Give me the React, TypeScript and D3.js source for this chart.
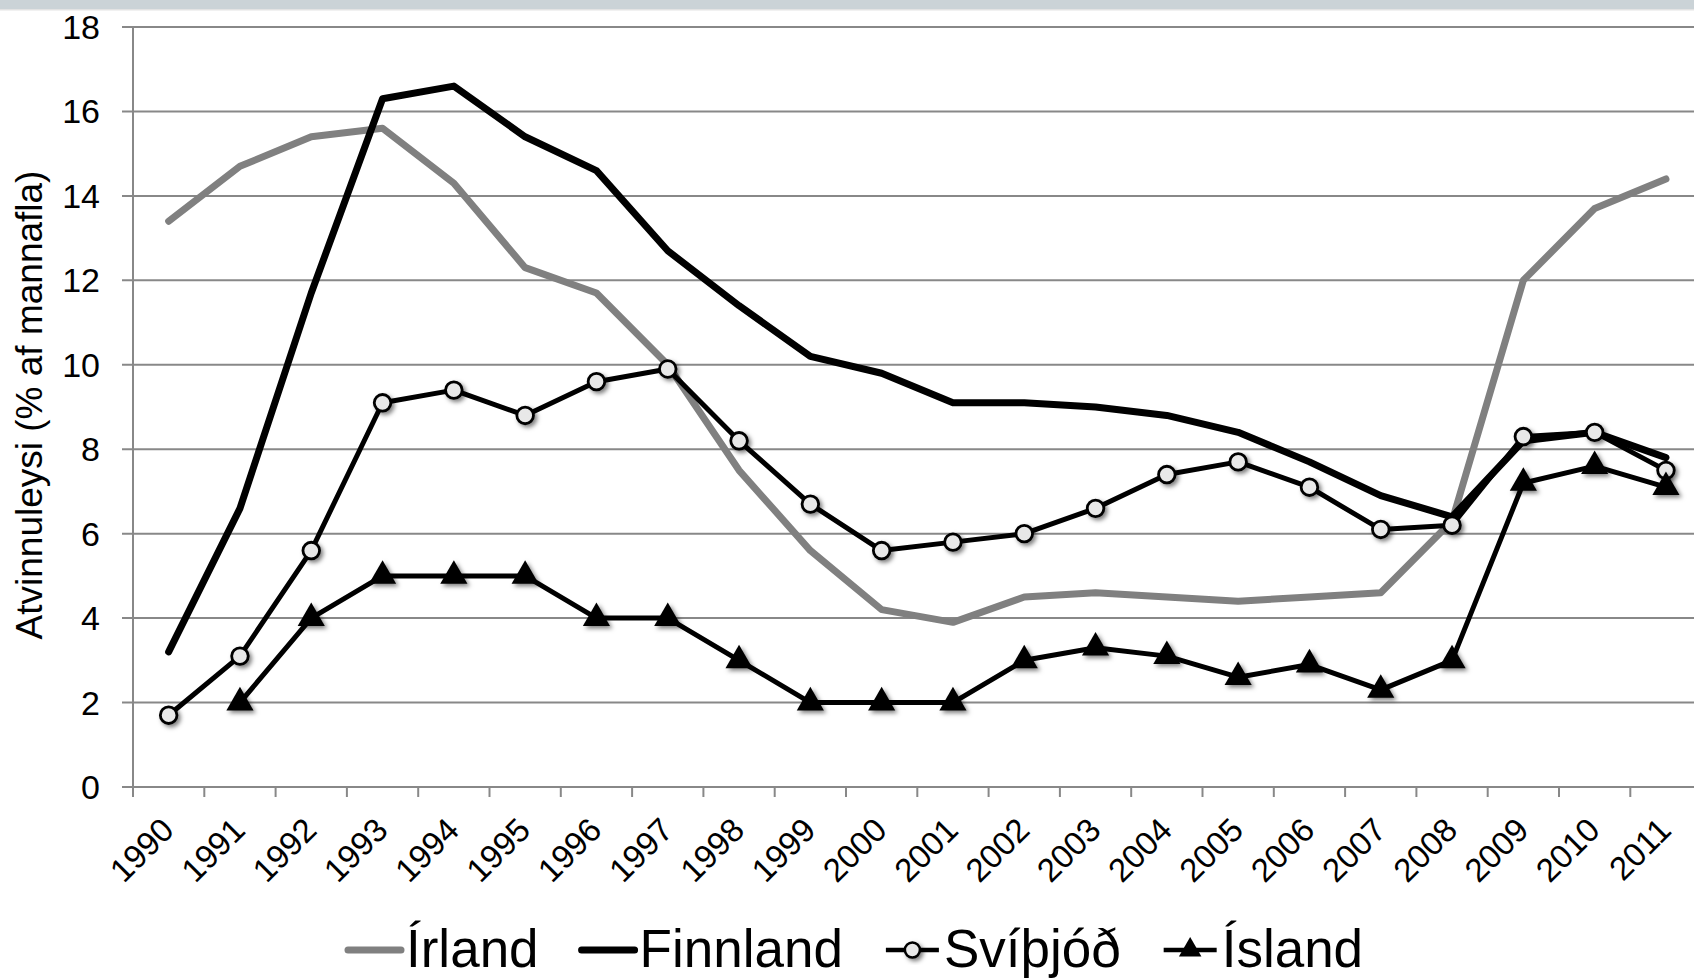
import React, { useRef, useEffect } from "react";
import * as d3 from "d3";

// atvinnuleysi 1990-2011, lesið af myndinni
const years = [
  "1990", "1991", "1992", "1993", "1994", "1995", "1996", "1997", "1998", "1999", "2000",
  "2001", "2002", "2003", "2004", "2005", "2006", "2007", "2008", "2009", "2010", "2011",
];
const irland = [13.4, 14.7, 15.4, 15.6, 14.3, 12.3, 11.7, 10.0, 7.5, 5.6, 4.2, 3.9, 4.5, 4.6, 4.5, 4.4, 4.5, 4.6, 6.3, 12.0, 13.7, 14.4];
const finnland = [3.2, 6.6, 11.7, 16.3, 16.6, 15.4, 14.6, 12.7, 11.4, 10.2, 9.8, 9.1, 9.1, 9.0, 8.8, 8.4, 7.7, 6.9, 6.4, 8.2, 8.4, 7.8];
const svithjod = [1.7, 3.1, 5.6, 9.1, 9.4, 8.8, 9.6, 9.9, 8.2, 6.7, 5.6, 5.8, 6.0, 6.6, 7.4, 7.7, 7.1, 6.1, 6.2, 8.3, 8.4, 7.5];
const island = [null, 2.0, 4.0, 5.0, 5.0, 5.0, 4.0, 4.0, 3.0, 2.0, 2.0, 2.0, 3.0, 3.3, 3.1, 2.6, 2.9, 2.3, 3.0, 7.2, 7.6, 7.1];
const seriesNames = ["Írland", "Finnland", "Svíþjóð", "Ísland"];
const yTicks = [0, 2, 4, 6, 8, 10, 12, 14, 16, 18];
const yTitle = "Atvinnuleysi (% af mannafla)";

const FONT = "'Liberation Sans', Arial, sans-serif";

const App = () => {
  const ref = useRef<HTMLDivElement>(null);

  useEffect(() => {
    const width = 1694;
    const height = 979;
    const step = 71.3;

    const x = d3.scaleBand<string>()
      .domain(years)
      .range([133, 133 + step * years.length]);
    const cx = (yr: string) => (x(yr) as number) + x.bandwidth() / 2;
    const y = d3.scaleLinear().domain([0, 18]).range([787, 27]);

    const svg = d3.create("svg")
      .attr("width", width)
      .attr("height", height)
      .attr("style", `position:absolute;left:0;top:0;display:block;background:#fff;font-family:${FONT}`);

    const defs = svg.append("defs");
    const f = defs.append("filter").attr("id", "shadow")
      .attr("x", "-50%").attr("y", "-50%").attr("width", "200%").attr("height", "200%");
    f.append("feDropShadow")
      .attr("dx", 2.5).attr("dy", 2.5).attr("stdDeviation", 2.2)
      .attr("flood-color", "#000").attr("flood-opacity", 0.5);

    // grábandið efst
    svg.append("rect").attr("x", 0).attr("y", 0).attr("width", width).attr("height", 9).attr("fill", "#cbd3d7");
    svg.append("rect").attr("x", 0).attr("y", 9).attr("width", width).attr("height", 1.5).attr("fill", "#e3e3e3");

    // láréttar línur og y-ás
    const grid = svg.append("g");
    grid.selectAll("line")
      .data(yTicks)
      .join("line")
      .attr("x1", 122).attr("x2", width)
      .attr("y1", d => y(d)).attr("y2", d => y(d))
      .attr("stroke", "#888").attr("stroke-width", 2);
    grid.append("line")
      .attr("x1", 133).attr("x2", 133).attr("y1", y(18)).attr("y2", y(0) + 10)
      .attr("stroke", "#888").attr("stroke-width", 2);

    svg.append("g").selectAll("text")
      .data(yTicks)
      .join("text")
      .attr("x", 100).attr("y", d => y(d))
      .attr("text-anchor", "end").attr("dominant-baseline", "central")
      .attr("font-size", 34).attr("fill", "#000")
      .text(d => d);

    svg.append("text")
      .attr("transform", `translate(42,${(y(0) + y(18)) / 2 - 2}) rotate(-90)`)
      .attr("text-anchor", "middle")
      .attr("font-size", 37).attr("fill", "#000")
      .text(yTitle);

    // x-ás merki
    svg.append("g").selectAll("line")
      .data(d3.range(years.length + 1))
      .join("line")
      .attr("x1", i => 133 + i * x.step()).attr("x2", i => 133 + i * x.step())
      .attr("y1", y(0)).attr("y2", y(0) + 10)
      .attr("stroke", "#888").attr("stroke-width", 2);

    svg.append("g").selectAll("text")
      .data(years)
      .join("text")
      .attr("transform", d => `translate(${cx(d) - 1},${y(0) + 37}) rotate(-45)`)
      .attr("text-anchor", "end").attr("dominant-baseline", "central")
      .attr("font-size", 33).attr("fill", "#000")
      .text(d => d);

    // línurnar
    const line = d3.line<number | null>()
      .defined(d => d != null)
      .x((_, i) => cx(years[i]))
      .y(d => y(d as number));

    const styles = [
      { data: irland, color: "#808080", w: 7 },
      { data: finnland, color: "#000", w: 7 },
      { data: svithjod, color: "#000", w: 5 },
      { data: island, color: "#000", w: 5 },
    ];
    const tri = d3.symbol().type(d3.symbolTriangle).size(320);

    const plot = svg.append("g");
    styles.forEach((s, k) => {
      plot.append("path")
        .attr("d", line(s.data as (number | null)[]))
        .attr("fill", "none")
        .attr("stroke", s.color)
        .attr("stroke-width", s.w)
        .attr("stroke-linecap", "round")
        .attr("stroke-linejoin", "round");

      if (k === 2) {
        plot.append("g").attr("filter", "url(#shadow)")
          .selectAll("circle")
          .data(svithjod.map((v, i) => ({ v, yr: years[i] })))
          .join("circle")
          .attr("cx", d => cx(d.yr)).attr("cy", d => y(d.v))
          .attr("r", 8.3)
          .attr("fill", "#e8e8e8").attr("stroke", "#000").attr("stroke-width", 2.8);
      }
      if (k === 3) {
        plot.append("g").attr("filter", "url(#shadow)")
          .selectAll("path")
          .data(island.map((v, i) => ({ v, yr: years[i] })).filter(d => d.v != null))
          .join("path")
          .attr("d", tri)
          .attr("transform", d => `translate(${cx(d.yr)},${y(d.v as number)})`)
          .attr("fill", "#000");
      }
    });

    const container = ref.current!;
    container.innerHTML = "";
    container.appendChild(svg.node()!);

    // skýringar, mældar eftir að svg er komið á síðuna
    const legend = svg.append("g");
    const ly = 950;
    let px = 348;
    seriesNames.forEach((name, k) => {
      const s = styles[k];
      legend.append("line")
        .attr("x1", px).attr("x2", px + 53).attr("y1", ly).attr("y2", ly)
        .attr("stroke", s.color).attr("stroke-width", k < 2 ? s.w : 4.5)
        .attr("stroke-linecap", k < 2 ? "round" : "butt");
      if (k === 2) {
        legend.append("circle").attr("cx", px + 26.5).attr("cy", ly).attr("r", 7.5)
          .attr("fill", "#e8e8e8").attr("stroke", "#000").attr("stroke-width", 2.5)
          .attr("filter", "url(#shadow)");
      }
      if (k === 3) {
        legend.append("path")
          .attr("d", d3.symbol().type(d3.symbolTriangle).size(220)())
          .attr("transform", `translate(${px + 26.5},${ly})`)
          .attr("fill", "#000");
      }
      const t = legend.append("text")
        .attr("x", px + 58).attr("y", ly + 17)
        .attr("font-size", 53).attr("fill", "#000")
        .text(name);
      px += 58 + (t.node() as SVGTextElement).getComputedTextLength() + 43;
    });
  }, []);

  return <div ref={ref} />;
};

export default App;
